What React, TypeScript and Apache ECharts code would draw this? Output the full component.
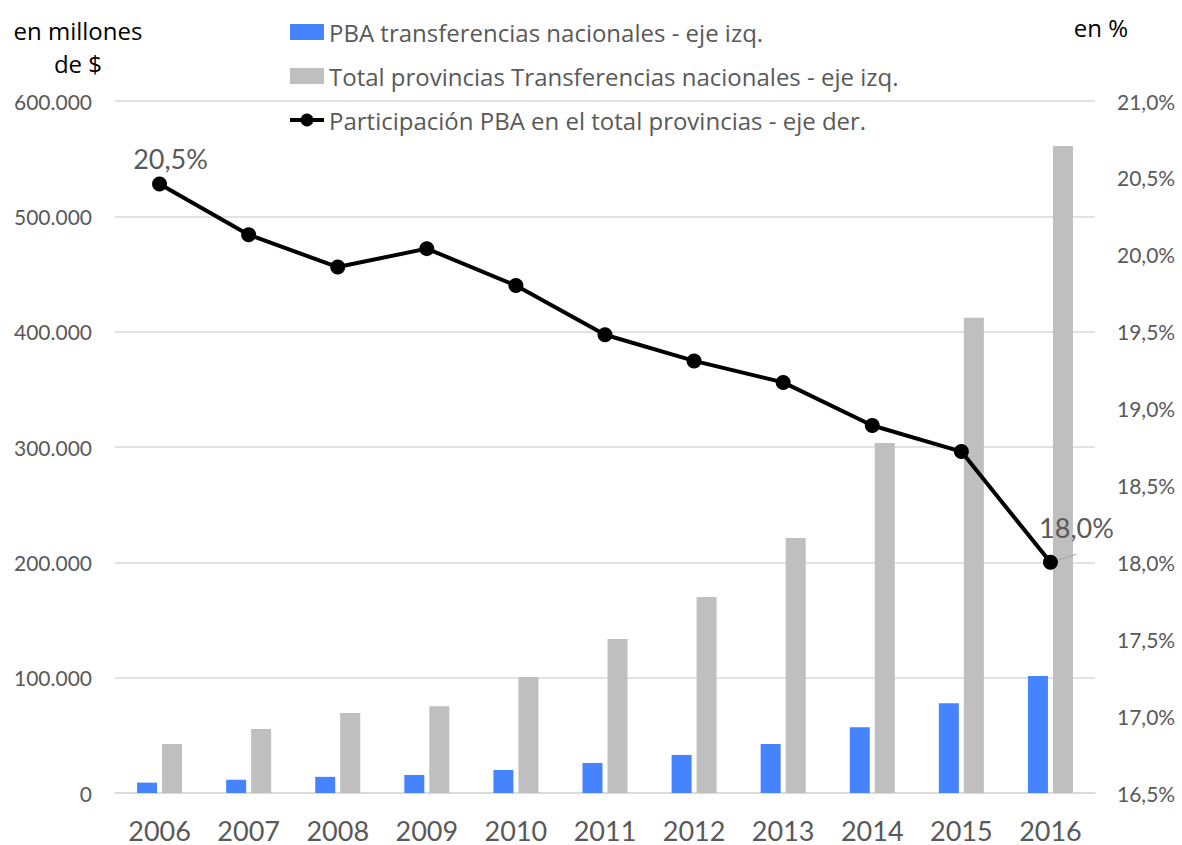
import React, { useEffect, useRef } from "react";
import * as echarts from "echarts";

const years = ["2006", "2007", "2008", "2009", "2010", "2011", "2012", "2013", "2014", "2015", "2016"];
const pbaTransfers = [9000, 11500, 14000, 15600, 20000, 26000, 33000, 42500, 57000, 77800, 101400];
const totalTransfers = [42500, 55500, 69400, 75200, 100600, 133500, 170000, 221000, 303500, 412000, 561000];
const pbaShare = [20.46, 20.13, 19.92, 20.04, 19.8, 19.48, 19.31, 19.17, 18.89, 18.72, 18.0];
const labeledPoints = [0, 10];

const seriesNames = [
  "PBA transferencias nacionales - eje izq.",
  "Total provincias Transferencias nacionales - eje izq.",
  "Participación PBA en el total provincias - eje der.",
];

const FONT = "Lato";
const FONT_WIDE = "Open Sans";
const GREY_TEXT = "#595959";

const fmtThousands = (v: number) => String(Math.round(v)).replace(/\B(?=(\d{3})+(?!\d))/g, ".");
const fmtPct = (v: number) => v.toFixed(1).replace(".", ",") + "%";

export default function App() {
  const ref = useRef<HTMLDivElement>(null);

  useEffect(() => {
    document.body.style.margin = "0";
    if (!ref.current) return;
    const chart = echarts.init(ref.current, null, { renderer: "svg" });

    const lineData = pbaShare.map((v, i) =>
      labeledPoints.includes(i)
        ? {
            value: v,
            label: {
              show: true,
              position: "top",
              offset: i === 0 ? [11, 0] : [26, -9],
              fontSize: 27,
              fontFamily: FONT,
              color: GREY_TEXT,
              formatter: (p: any) => fmtPct(p.value),
            },
            labelLine: i === 10 ? { show: true, lineStyle: { color: "#a6a6a6", width: 1 } } : undefined,
          }
        : v
    );

    chart.setOption({
      animation: false,
      textStyle: { fontFamily: FONT },
      grid: { left: 115, right: 87, top: 101, bottom: 52 },
      legend: {
        orient: "vertical",
        left: 288,
        top: 20,
        padding: 0,
        itemWidth: 34,
        itemHeight: 16,
        itemGap: 20,
        textStyle: { fontSize: 24, color: GREY_TEXT, fontFamily: FONT_WIDE },
        data: [
          { name: seriesNames[0], icon: "rect" },
          { name: seriesNames[1], icon: "rect" },
          { name: seriesNames[2], lineStyle: { width: 4, color: "#000" } },
        ],
      },
      graphic: [
        { type: "text", x: 78, y: 30, style: { text: "en millones", fontSize: 24, fontFamily: FONT_WIDE, fill: "#000", align: "center", verticalAlign: "middle" } },
        { type: "text", x: 78, y: 63, style: { text: "de $", fontSize: 24, fontFamily: FONT_WIDE, fill: "#000", align: "center", verticalAlign: "middle" } },
        { type: "text", x: 1101, y: 27, style: { text: "en %", fontSize: 24, fontFamily: FONT_WIDE, fill: "#000", align: "center", verticalAlign: "middle" } },
      ],
      xAxis: {
        type: "category",
        data: years,
        axisLine: { lineStyle: { color: "#d9d9d9", width: 1.5 } },
        axisTick: { show: false },
        axisLabel: { fontSize: 27, lineHeight: 26, color: GREY_TEXT, fontFamily: FONT, margin: 24 },
      },
      yAxis: [
        {
          type: "value",
          min: 0,
          max: 600000,
          interval: 100000,
          axisLine: { show: false },
          axisTick: { show: false },
          splitLine: { lineStyle: { color: "#d9d9d9", width: 1.5 } },
          axisLabel: { fontSize: 21, color: GREY_TEXT, fontFamily: FONT, margin: 23, formatter: fmtThousands },
        },
        {
          type: "value",
          min: 16.5,
          max: 21,
          interval: 0.5,
          position: "right",
          axisLine: { show: false },
          axisTick: { show: false },
          splitLine: { show: false },
          axisLabel: { fontSize: 21, color: GREY_TEXT, fontFamily: FONT, margin: 22, formatter: fmtPct },
        },
      ],
      series: [
        {
          name: seriesNames[0],
          type: "bar",
          data: pbaTransfers,
          barWidth: 20,
          barGap: "25%",
          itemStyle: { color: "#4684FF" },
        },
        {
          name: seriesNames[1],
          type: "bar",
          data: totalTransfers,
          barWidth: 20,
          barGap: "25%",
          itemStyle: { color: "#BFBFBF" },
        },
        {
          name: seriesNames[2],
          type: "line",
          yAxisIndex: 1,
          data: lineData,
          symbol: "circle",
          symbolSize: 15,
          lineStyle: { color: "#000", width: 4 },
          itemStyle: { color: "#000" },
          z: 5,
        },
      ],
    });

    return () => chart.dispose();
  }, []);

  return <div ref={ref} style={{ width: 1182, height: 845 }} />;
}
